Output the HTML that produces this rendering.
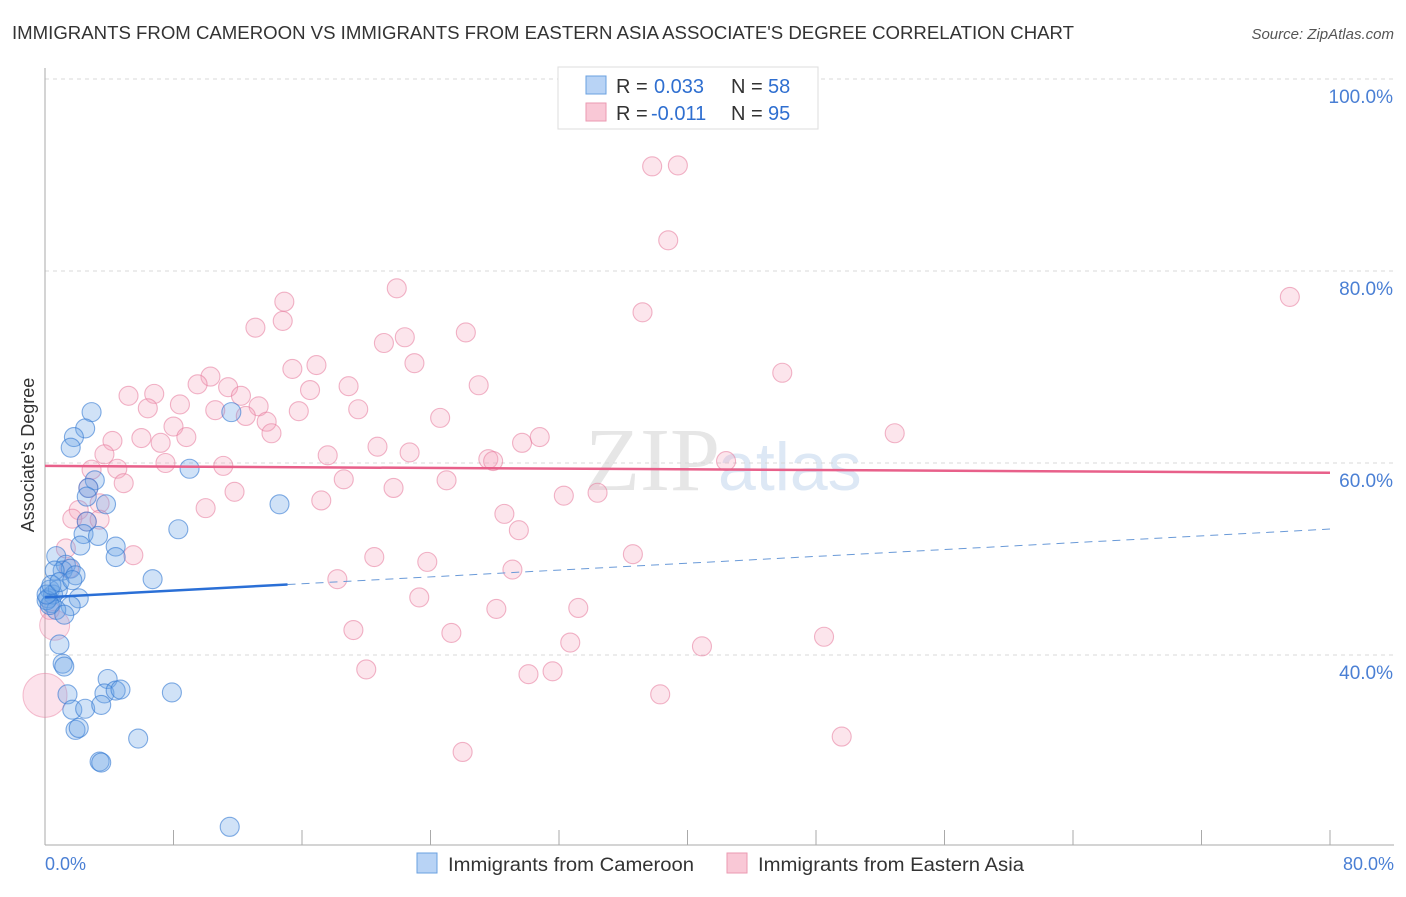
<!DOCTYPE html>
<html><head><meta charset="utf-8"><style>
body{margin:0;background:#fff;font-family:"Liberation Sans",sans-serif;}
</style></head><body>
<svg width="1406" height="892" xmlns="http://www.w3.org/2000/svg" style="font-family:'Liberation Sans',sans-serif">
<text x="12" y="39" font-size="18" fill="#333" textLength="1062" lengthAdjust="spacingAndGlyphs">IMMIGRANTS FROM CAMEROON VS IMMIGRANTS FROM EASTERN ASIA ASSOCIATE'S DEGREE CORRELATION CHART</text>
<text x="1394" y="39" font-size="15" fill="#555" font-style="italic" text-anchor="end">Source: ZipAtlas.com</text>
<text x="720" y="490" font-size="90" fill="#e6e6e6" text-anchor="end" font-family="Liberation Serif">ZIP</text>
<text x="718" y="490" font-size="68" fill="#dde8f5">atlas</text>
<g id="grid"></g>
<g id="axes"></g>
<g id="pts"></g>
<g id="lines"></g>
<text transform="translate(34,455) rotate(-90)" font-size="18" fill="#333" text-anchor="middle">Associate's Degree</text>
<text x="45" y="870" font-size="18" fill="#4a7fd4">0.0%</text>
<text x="1394" y="870" font-size="18" fill="#4a7fd4" text-anchor="end">80.0%</text>
<g>
<rect x="558" y="67" width="260" height="62" fill="#fff" stroke="#ddd"/>
<rect x="586" y="76" width="20" height="18" fill="#b8d3f5" stroke="#6aa0e0"/>
<text x="616" y="93" font-size="20" fill="#333">R =</text>
<text x="654" y="93" font-size="20" fill="#2f6fd0">0.033</text>
<text x="731" y="93" font-size="20" fill="#333">N =</text>
<text x="768" y="93" font-size="20" fill="#2f6fd0">58</text>
<rect x="586" y="103" width="20" height="18" fill="#f9c8d6" stroke="#eb9ab2"/>
<text x="616" y="120" font-size="20" fill="#333">R =</text>
<text x="651" y="120" font-size="20" fill="#2f6fd0">-0.011</text>
<text x="731" y="120" font-size="20" fill="#333">N =</text>
<text x="768" y="120" font-size="20" fill="#2f6fd0">95</text>
</g>
<g>
<rect x="417" y="853" width="20" height="20" fill="#b8d3f5" stroke="#6aa0e0"/>
<text x="448" y="871" font-size="19" fill="#333" textLength="246" lengthAdjust="spacingAndGlyphs">Immigrants from Cameroon</text>
</g>
<g>
<rect x="727" y="853" width="20" height="20" fill="#f9c8d6" stroke="#eb9ab2"/>
<text x="758" y="871" font-size="19" fill="#333" textLength="266" lengthAdjust="spacingAndGlyphs">Immigrants from Eastern Asia</text>
</g>
</svg>
<script>
const yTicks=[100,80,60,40];
const yTickLabels=["100.0%","80.0%","60.0%","40.0%"];
const xTicks=[0,8,16,24,32,40,48,56,64,72,80];
const blueX=[2.9,2.5,1.8,1.6,11.6,9.0,3.1,2.7,2.6,3.8,14.6,8.3,2.6,2.4,3.3,2.2,4.4,4.4,0.7,1.3,1.1,1.6,1.9,0.6,6.7,0.3,0.2,0.4,0.5,0.8,2.1,1.6,0.7,0.9,1.1,1.2,1.4,1.7,2.5,3.9,3.7,4.4,4.7,7.9,3.5,1.9,2.1,5.8,3.4,3.5,11.5,0.1,0.3,0.1,0.4,0.9,1.7,1.2];
const blueY=[65.3,63.6,62.7,61.6,65.3,59.4,58.2,57.4,56.5,55.7,55.7,53.1,53.9,52.6,52.4,51.4,51.3,50.2,50.3,49.4,48.8,49.0,48.3,48.8,47.9,46.8,45.9,45.4,46.3,46.8,45.9,45.1,44.7,41.1,39.1,38.8,35.9,34.3,34.4,37.5,36.0,36.3,36.4,36.1,34.8,32.2,32.4,31.3,28.9,28.8,22.1,45.7,45.2,46.3,47.3,47.6,47.8,44.2];
const pinkX=[37.8,39.4,38.8,77.5,21.9,14.9,13.1,14.8,37.2,26.2,22.4,21.1,23.0,15.4,16.9,45.9,10.3,9.5,11.4,18.9,16.5,27.0,5.2,6.8,12.2,6.4,8.4,10.6,13.3,15.8,19.5,12.5,24.6,8.0,13.8,14.1,4.2,6.0,8.8,7.2,52.9,30.8,29.7,20.7,22.7,3.7,17.6,27.6,27.9,7.5,11.1,42.4,2.9,4.5,4.9,18.6,25.0,11.8,21.7,2.7,17.2,32.3,34.4,3.4,2.1,28.6,29.5,10.0,1.7,2.6,3.4,1.3,5.5,36.6,20.5,23.8,29.1,18.2,23.3,28.1,33.2,0.3,19.2,25.3,32.7,40.9,48.5,20.0,30.1,31.6,38.3,26.0,49.6,1.5];
const pinkY=[90.9,91.0,83.2,77.3,78.2,76.8,74.1,74.8,75.7,73.6,73.1,72.5,70.4,69.8,70.2,69.4,69.0,68.2,67.9,68.0,67.6,68.1,67.0,67.2,67.0,65.7,66.1,65.5,65.9,65.4,65.6,64.9,64.7,63.8,64.3,63.1,62.3,62.6,62.7,62.1,63.1,62.7,62.1,61.7,61.1,60.9,60.8,60.4,60.2,60.0,59.7,60.2,59.3,59.4,57.9,58.3,58.2,57.0,57.4,57.4,56.1,56.6,56.9,55.8,55.1,54.7,53.0,55.3,54.2,53.9,54.1,51.1,50.4,50.5,50.2,49.7,48.9,47.9,46.0,44.8,44.9,44.7,42.6,42.3,41.3,40.9,41.9,38.5,38.0,38.3,35.9,29.9,31.5,49.0];
const bigPinkX=[0,0.6];
const bigPinkY=[35.8,43.1];
const blueTrend=[46.0,0.089]; // intercept, slope
const blueSolidEnd=15.1;
const pinkTrend=[59.7,-0.009];
const NS="http://www.w3.org/2000/svg";
const X=v=>45+v*16.0625, Y=v=>79+(100-v)*9.6;
function mk(tag,attrs,parent){const e=document.createElementNS(NS,tag);for(const k in attrs)e.setAttribute(k,attrs[k]);document.getElementById(parent).appendChild(e);return e;}
yTicks.forEach((t,i)=>{
 const l=mk('line',{x1:45,x2:1394,y1:Y(t),y2:Y(t),stroke:'#d8d8d8','stroke-dasharray':'4,4'},'grid');
 
 
 const tx=mk('text',{x:1393,y:Y(t)+24,'font-size':19,fill:'#4a7fd4','text-anchor':'end'},'grid');
 tx.textContent=yTickLabels[i];
 
 
});
const ax=mk('line',{x1:45,x2:45,y1:68,y2:845,stroke:'#aaa'},'axes');


const bx=mk('line',{x1:45,x2:1394,y1:845,y2:845,stroke:'#aaa'},'axes');


xTicks.forEach(t=>{const l=mk('line',{x1:X(t),x2:X(t),y1:830,y2:845,stroke:'#aaa'},'axes');
 
 });
pinkX.forEach((x,i)=>{const c=mk('circle',{cx:X(x),cy:Y(pinkY[i]),r:9.5,fill:'rgba(244,160,188,0.28)',stroke:'rgba(230,120,155,0.55)','stroke-width':1.1},'pts');
 
 });
bigPinkX.forEach((x,i)=>{const c=mk('circle',{cx:X(x),cy:Y(bigPinkY[i]),r:i?15:22,fill:'rgba(244,160,188,0.3)',stroke:'rgba(230,120,155,0.45)'},'pts');
 
 });
blueX.forEach((x,i)=>{const c=mk('circle',{cx:X(x),cy:Y(blueY[i]),r:9.5,fill:'rgba(110,165,230,0.32)',stroke:'rgba(50,120,210,0.6)','stroke-width':1.1},'pts');
 
 });
const bt=v=>blueTrend[0]+blueTrend[1]*v, pt=v=>pinkTrend[0]+pinkTrend[1]*v;
const l1=mk('line',{x1:X(0),y1:Y(bt(0)),x2:X(blueSolidEnd),y2:Y(bt(blueSolidEnd)),stroke:'#2a6fd6','stroke-width':2.5},'lines');


const l2=mk('line',{x1:X(blueSolidEnd),y1:Y(bt(blueSolidEnd)),x2:X(80),y2:Y(bt(80)),stroke:'#6a9ad8','stroke-width':1,'stroke-dasharray':'8,6'},'lines');


const l3=mk('line',{x1:X(0),y1:Y(pt(0)),x2:X(80),y2:Y(pt(80)),stroke:'#e8608a','stroke-width':2.5},'lines');


</script>
</body></html>
